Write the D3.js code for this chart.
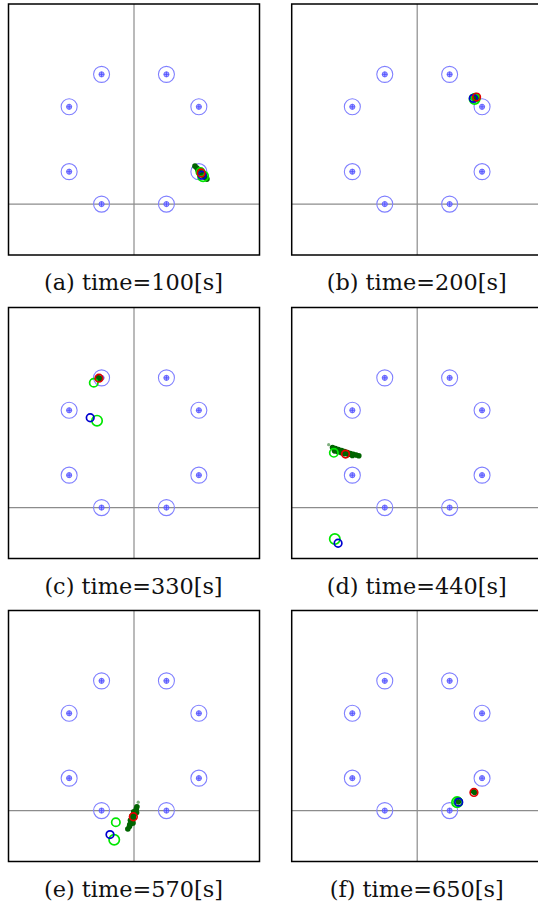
<!DOCTYPE html>
<html>
<head>
<meta charset="utf-8">
<script src="https://cdn.jsdelivr.net/npm/d3@7"></script>
<style>
  body { margin: 0; background: #fff; }
  svg { display: block; }
</style>
</head>
<body>
<div id="chart"></div>
<script>
// captions of the six snapshots
var captions = ["(a) time=100[s]", "(b) time=200[s]", "(c) time=330[s]",
                "(d) time=440[s]", "(e) time=570[s]", "(f) time=650[s]"];

// landmarks (world coords)
var landmarkX = [-1, 1, -2, 2, -2, 2, -1, 1];
var landmarkY = [4, 4, 3, 3, 1, 1, 0, 0];

// robot true pose (blue)
var trueX = [2.10, 1.73, -1.35, -2.44, -0.74, 1.28];
var trueY = [0.89, 3.26, 2.77, -1.10, -0.74, 0.26];
// estimate (red)
var estX = [2.07, 1.83, -1.08, -2.21, -0.02, 1.75];
var estY = [0.96, 3.30, 3.99, 1.65, -0.19, 0.56];
// green markers, big one near true pose, small one near estimate
var obsX = [2.13, 1.77, -1.14, -2.54, -0.61, 1.23];
var obsY = [0.86, 3.24, 2.68, -0.97, -0.90, 0.26];
var odoX = [2.05, 1.80, -1.24, -2.57, -0.56, 1.26];
var odoY = [0.99, 3.28, 3.85, 1.69, -0.36, 0.27];

// particles per snapshot
var particlesA = [[1.88, 1.17], [1.94, 1.11], [2.00, 1.05], [2.07, 0.99], [2.13, 0.93], [2.19, 0.83], [2.25, 0.77],
                  [1.97, 1.06], [2.10, 0.90], [2.04, 0.94], [2.16, 0.90]];
var particlesB = [[1.70, 3.30], [1.77, 3.24], [1.86, 3.30], [1.80, 3.27]];
var particlesC = [[-1.11, 4.01], [-1.05, 3.98], [-1.08, 3.96]];
var particlesD = [[-2.61, 1.85], [-2.52, 1.82], [-2.43, 1.79], [-2.33, 1.76], [-2.24, 1.73], [-2.15, 1.70],
                  [-2.06, 1.67], [-1.97, 1.64], [-1.88, 1.62], [-1.80, 1.60], [-2.55, 1.75], [-2.45, 1.72],
                  [-2.34, 1.69], [-2.24, 1.66], [-2.12, 1.64], [-2.00, 1.61]];
var particlesE = [[0.09, 0.12], [0.07, 0.05], [0.04, -0.03], [0.01, -0.12], [-0.02, -0.22], [-0.05, -0.31],
                  [-0.09, -0.40], [-0.14, -0.49], [-0.19, -0.57], [0.08, -0.06], [-0.07, -0.18], [-0.11, -0.30],
                  [-0.01, -0.04], [-0.03, -0.38], [-0.13, -0.43]];
var particlesF = [[1.74, 0.59], [1.77, 0.56], [1.27, 0.27]];
var particles = [particlesA, particlesB, particlesC, particlesD, particlesE, particlesF];
// stray low-weight particles
var strayX = [null, null, null, -2.73, 0.13, null];
var strayY = [null, null, null, 1.94, 0.26, null];

var width = 538, height = 911;
var size = 251;
var colX = [8.5, 291.7];
var rowY = [4, 307.5, 610.5];

var svg = d3.select("#chart").append("svg")
    .attr("width", width)
    .attr("height", height);

var x = d3.scaleLinear().domain([-3.87, 3.87]).range([0, size]);
var y = d3.scaleLinear().domain([-1.57, 6.17]).range([size, 0]);

var landmarks = landmarkX.map(function(d, i) { return { x: d, y: landmarkY[i] }; });

captions.forEach(function(cap, i) {
    var px = colX[i % 2], py = rowY[Math.floor(i / 2)];
    var g = svg.append("g").attr("transform", "translate(" + px + "," + py + ")");

    g.append("clipPath").attr("id", "clip" + i)
        .append("rect").attr("width", size).attr("height", size);

    var plot = g.append("g").attr("clip-path", "url(#clip" + i + ")");

    // axes lines
    plot.append("line")
        .attr("x1", x(0)).attr("x2", x(0)).attr("y1", 0).attr("y2", size)
        .attr("stroke", "#8c8c8c").attr("stroke-width", 1.2);
    plot.append("line")
        .attr("x1", 0).attr("x2", size).attr("y1", y(0)).attr("y2", y(0))
        .attr("stroke", "#8c8c8c").attr("stroke-width", 1.2);

    // landmarks
    var lm = plot.selectAll(".lm").data(landmarks).enter().append("g")
        .attr("transform", function(d) { return "translate(" + x(d.x) + "," + y(d.y) + ")"; });
    lm.append("circle").attr("r", 8).attr("fill", "none")
        .attr("stroke", "#8080ff").attr("stroke-width", 1.1);
    lm.append("circle").attr("r", 2.6).attr("fill", "#a8a8ff")
        .attr("stroke", "#5c5cff").attr("stroke-width", 0.8);
    lm.append("path").attr("d", "M-2.6,0H2.6M0,-2.6V2.6")
        .attr("stroke", "#4a4aff").attr("stroke-width", 0.8);

    // particles
    plot.selectAll(".pt").data(particles[i]).enter().append("circle")
        .attr("cx", function(d) { return x(d[0]); })
        .attr("cy", function(d) { return y(d[1]); })
        .attr("r", 2.8)
        .attr("fill", "#006400");
    if (strayX[i] !== null) {
        plot.append("circle")
            .attr("cx", x(strayX[i])).attr("cy", y(strayY[i]))
            .attr("r", 1.6).attr("fill", "#5f9a5f").attr("opacity", 0.8);
    }

    // pose markers
    plot.append("circle").attr("cx", x(obsX[i])).attr("cy", y(obsY[i])).attr("r", 5.2)
        .attr("fill", "none").attr("stroke", "#00e600").attr("stroke-width", 1.7);
    plot.append("circle").attr("cx", x(odoX[i])).attr("cy", y(odoY[i])).attr("r", 4.2)
        .attr("fill", "none").attr("stroke", "#00e600").attr("stroke-width", 1.7);
    plot.append("circle").attr("cx", x(trueX[i])).attr("cy", y(trueY[i])).attr("r", 3.8)
        .attr("fill", "none").attr("stroke", "#0000d0").attr("stroke-width", 1.7);
    plot.append("circle").attr("cx", x(estX[i])).attr("cy", y(estY[i])).attr("r", 3.8)
        .attr("fill", "none").attr("stroke", "#e00000").attr("stroke-width", 1.7);

    // frame
    g.append("rect").attr("width", size).attr("height", size)
        .attr("fill", "none").attr("stroke", "#000").attr("stroke-width", 1.5);

    // caption
    g.append("text")
        .attr("x", size / 2 - 0.5)
        .attr("y", size + 35)
        .attr("text-anchor", "middle")
        .attr("font-family", "'DejaVu Serif', serif")
        .attr("font-size", 22.4)
        .attr("fill", "#111")
        .text(cap);
});
</script>
</body>
</html>
